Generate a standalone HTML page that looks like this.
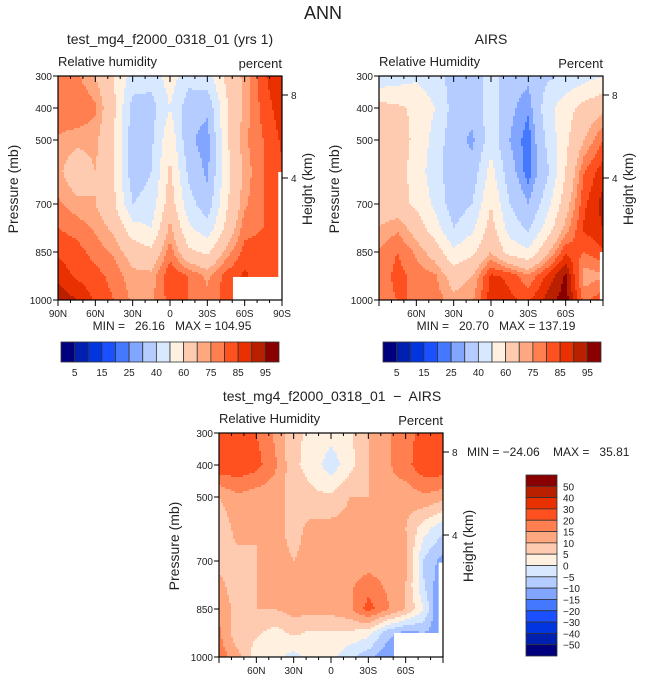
<!DOCTYPE html>
<html><head><meta charset="utf-8"><style>
body{margin:0;background:#fff;}
svg{display:block;font-family:"Liberation Sans",sans-serif;}
text{fill:#222;white-space:pre;}
</style></head><body>
<svg id="fig" width="647" height="682" viewBox="0 0 647 682">
<text x="323" y="19" text-anchor="middle" font-size="18">ANN</text>
</svg>
<script>
const lats = [90,75,60,45,30,15,0,-15,-30,-45,-60,-75,-90];
const pres = [300,400,500,600,700,775,850,925,1000];
const model = [
[76,76,70,60,46,44,55,44,46,62,72,84,90],
[80,80,76,62,36,36,50,34,32,58,72,82,88],
[74,72,72,60,34,38,58,32,26,58,74,80,86],
[72,64,70,60,34,40,62,38,28,56,72,80,84],
[76,72,70,62,40,44,66,44,34,58,74,80,82],
[80,78,74,68,54,50,72,52,44,62,78,80,80],
[84,82,78,74,66,62,78,62,58,72,82,82,80],
[88,84,82,78,72,72,84,80,74,82,86,82,80],
[94,90,84,80,74,74,82,80,76,82,84,80,80]];
const airs = [
[42,45,48,44,36,34,45,34,32,38,42,46,50],
[64,62,58,50,36,34,45,32,26,46,56,64,68],
[66,64,58,46,34,28,46,30,22,42,58,70,80],
[66,64,56,44,34,34,54,34,22,38,60,80,88],
[66,64,58,48,34,40,60,40,30,46,66,84,92],
[70,74,66,54,40,48,64,46,38,54,72,86,90],
[76,80,74,66,52,58,70,56,52,68,84,80,84],
[76,82,78,76,66,70,86,84,76,86,96,72,74],
[78,80,80,78,72,74,88,86,84,92,98,78,84]];
const diff = [
[24,24,20,14,6,4,2,4,10,14,18,22,30],
[24,24,22,16,6,3,-3,3,10,14,18,24,24],
[10,14,12,12,8,6,6,10,10,14,12,14,12],
[6,12,10,12,8,12,12,12,12,12,10,2,-4],
[8,8,10,12,10,12,12,12,12,12,12,-6,-12],
[12,6,10,10,10,12,12,14,18,14,10,-5,-15],
[14,8,10,10,12,12,12,14,22,16,10,0,-20],
[16,6,6,3,6,4,4,4,2,-8,-12,-10,-14],
[18,12,2,2,-2,2,2,-4,-8,-14,-14,-12,-12]];
const levelsRH = [5,10,15,20,25,30,40,50,60,70,75,80,85,90,95];
const levelsDiff = [-50,-40,-30,-20,-15,-10,-5,0,5,10,15,20,30,40,50];
const cbLabelsRH = ["5","15","25","40","60","75","85","95"];
const cbLabelsDiff = ["50","40","30","20","15","10","5","0","\u22125","\u221210","\u221215","\u221220","\u221230","\u221240","\u221250"];
const pTicks = [300,400,500,700,850,1000];
const latTicksFull = [["90N",90],["60N",60],["30N",30],["0",0],["30S",-30],["60S",-60],["90S",-90]];
const latTicksPart = [["60N",60],["30N",30],["0",0],["30S",-30],["60S",-60]];
const colors = ["#00007f","#0020b0","#0035e0","#1a50ff","#4478ff","#82a6ff","#b4ccff","#d8e8ff","#fff0e0","#ffcbb0","#ffa880","#ff7f50","#ff5020","#e83000","#b82000","#8a0000"];

const NS="http://www.w3.org/2000/svg";
const svg=document.getElementById('fig');
function mk(tag,attrs,parent){const e=document.createElementNS(NS,tag);for(const k in attrs)e.setAttribute(k,attrs[k]);(parent||svg).appendChild(e);return e;}
function levelIndex(v,lv){let i=0;while(i<lv.length&&v>=lv[i])i++;return i;}

function panel(o){
  const g=mk('g',{});
  
  
  const W=224,H=224,x0=o.x,y0=o.y;
  const xS=lat=>x0+(90-lat)/180*W;
  const yS=p=>y0+(p-300)/700*H;
  const latInv=x=>90-(x-x0)/W*180;
  const pInv=y=>300+(y-y0)/H*700;
  function sample(data,lat,p){
    let cf=(90-lat)/15;cf=Math.max(0,Math.min(lats.length-1.0001,cf));
    let r=0;while(r<pres.length-2&&p>pres[r+1])r++;
    let rf=(p-pres[r])/(pres[r+1]-pres[r]);rf=Math.max(0,Math.min(1,rf));
    const c=Math.floor(cf),t=cf-c;
    const a=data[r][c]*(1-t)+data[r][c+1]*t;
    const b=data[r+1][c]*(1-t)+data[r+1][c+1]*t;
    return a*(1-rf)+b*rf;
  }
  const fills=mk('g',{},g);
  
  
  const cs=2,n=W/cs;
  for(let j=0;j<n;j++){
    const yc=y0+(j+0.5)*cs,p=pInv(yc);
    let start=0,cur=-1;
    for(let i=0;i<=n;i++){
      let idx=-2;
      if(i<n){const v=sample(o.data,latInv(x0+(i+0.5)*cs),p);idx=levelIndex(v,o.levels);}
      if(idx!==cur){
        if(cur>=0){const r=mk('rect',{x:x0+start*cs,y:y0+j*cs,width:(i-start)*cs+0.4,height:cs+0.4,fill:colors[cur]},fills);
          
          }
        cur=idx;start=i;
      }
    }
  }
  (o.blanks||[]).forEach(b=>{const r=mk('rect',{x:xS(b[0]),y:yS(b[2]),width:xS(b[1])-xS(b[0]),height:yS(b[3])-yS(b[2]),fill:"#fff"},g);
    
    });
  const fr=mk('rect',{x:x0,y:y0,width:W,height:H,fill:"none",stroke:"#000","stroke-width":1.2},g);
  
  
  pTicks.forEach(p=>{const y=yS(p);
    mk('line',{x1:x0-5,x2:x0,y1:y,y2:y,stroke:"#000"},g);
    const t=mk('text',{x:x0-6,y:y+4,"text-anchor":"end","font-size":10},g);t.textContent=p;
    
    });
  for(let l=90;l>=-90;l-=10){const x=xS(l);mk('line',{x1:x,x2:x,y1:y0,y2:y0+(l%30===0?6:3),stroke:"#000"},g);
    mk('line',{x1:x,x2:x,y1:y0+H,y2:y0+H+(l%30===0?6:3),stroke:"#000"},g);}
  o.latTicks.forEach(tk=>{const t=mk('text',{x:xS(tk[1]),y:y0+H+17,"text-anchor":"middle","font-size":10},g);t.textContent=tk[0];
    
    });
  [[8,y0+19],[4,y0+102]].forEach(h=>{mk('line',{x1:x0+W,x2:x0+W+6,y1:h[1],y2:h[1],stroke:"#000"},g);
    const t=mk('text',{x:x0+W+9,y:h[1]+4,"font-size":10},g);t.textContent=h[0];
    
    });
  const yl=mk('text',{x:0,y:0,"text-anchor":"middle","font-size":14,fill:"#444",transform:`translate(${x0-40},${y0+113}) rotate(-90)`},g);yl.textContent="Pressure (mb)";
  
  
  const hl=mk('text',{x:0,y:0,"text-anchor":"middle","font-size":14,fill:"#444",transform:`translate(${x0+W+30},${y0+113}) rotate(-90)`},g);hl.textContent="Height (km)";
  
  
  const tt=mk('text',{x:o.titleX,y:y0-32,"text-anchor":"middle","font-size":14},g);tt.textContent=o.title;
  
  
  const vl=mk('text',{x:x0,y:y0-10,"font-size":13},g);vl.textContent=o.varName;
  
  
  const ul=mk('text',{x:x0+W,y:y0-8,"text-anchor":"end","font-size":13},g);ul.textContent=o.units;
  
  
  const mm=mk('text',{x:o.mmX,y:o.mmY,"text-anchor":o.mmAnchor,"font-size":12},g);mm.textContent=o.mm;
  
  
}
function hbar(x,y,w,h){
  const g=mk('g',{});
  
  
  const bw=w/16;
  colors.forEach((c,i)=>{const r=mk('rect',{x:x+i*bw,y:y,width:bw,height:h,fill:c,stroke:"#333","stroke-width":0.8},g);
    
    });
  cbLabelsRH.forEach((l,k)=>{const t=mk('text',{x:x+(2*k+1)*bw,y:y+h+14,"text-anchor":"middle","font-size":10},g);t.textContent=l;
    
    });
}
function vbar(x,y,w,h){
  const g=mk('g',{});
  
  
  const bh=h/16;
  colors.slice().reverse().forEach((c,i)=>{const r=mk('rect',{x:x,y:y+i*bh,width:w,height:bh,fill:c,stroke:"#333","stroke-width":0.8},g);
    
    });
  cbLabelsDiff.forEach((l,k)=>{const t=mk('text',{x:x+w+6,y:y+(k+1)*bh+4,"font-size":10},g);t.textContent=l;
    
    });
}
panel({name:'model-panel',x:58,y:76,data:model,levels:levelsRH,latTicks:latTicksFull,title:"test_mg4_f2000_0318_01 (yrs 1)",titleX:170,varName:"Relative humidity",units:"percent",mm:"MIN =   26.16   MAX = 104.95",mmX:172,mmY:330,mmAnchor:"middle",
  blanks:[[-50.6,-90,928,1000],[-87,-90,600,928]]});
panel({name:'airs-panel',x:379,y:76,data:airs,levels:levelsRH,latTicks:latTicksPart,title:"AIRS",titleX:491,varName:"Relative Humidity",units:"Percent",mm:"MIN =   20.70   MAX = 137.19",mmX:496,mmY:330,mmAnchor:"middle",
  blanks:[[-87.5,-90,850,1000]]});
panel({name:'diff-panel',x:219,y:433,data:diff,levels:levelsDiff,latTicks:latTicksPart,title:"test_mg4_f2000_0318_01  \u2212  AIRS",titleX:332,varName:"Relative Humidity",units:"Percent",mm:"MIN = \u221224.06    MAX =   35.81",mmX:467,mmY:456,mmAnchor:"start",
  blanks:[[-50.6,-90,925,1000],[-86.5,-90,705,925]]});
hbar(61,342,218,20);
hbar(383,342,218,20);
vbar(526,475,31,181);
</script>
</body></html>
